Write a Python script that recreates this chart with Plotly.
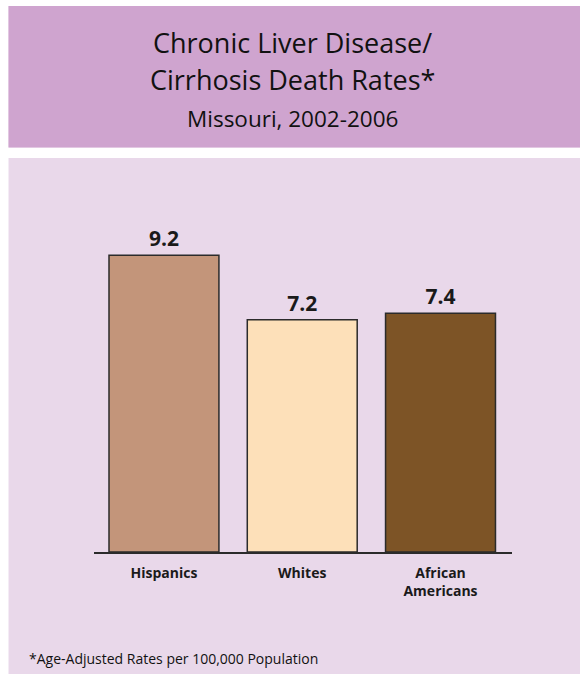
import plotly.graph_objects as go

categories = ["Hispanics", "Whites", "African<br>Americans"]
values = [9.2, 7.2, 7.4]
value_labels = ["9.2", "7.2", "7.4"]
bar_colors = ["#c3957a", "#fde0b9", "#7d5426"]

title_line1 = "Chronic Liver Disease/"
title_line2 = "Cirrhosis Death Rates*"
subtitle = "Missouri, 2002-2006"
footnote = "*Age-Adjusted Rates per 100,000 Population"

W, H = 580, 674
# plot area in page pixels: x 94..512, y 165..552
ML, MR, MT, MB = 94, 68, 165, 122

def px_x(x):
    return (x - ML) / (W - ML - MR)

def px_y(y):
    return (H - MB - y) / (H - MT - MB)

FONT = "Open Sans"
LAVENDER = "#e9d8ea"

fig = go.Figure(
    go.Bar(
        x=categories,
        y=values,
        text=value_labels,
        textposition="outside",
        texttemplate="<b>%{text}</b>",
        textfont=dict(family=FONT, size=21, color="#1a1a1a"),
        marker=dict(color=bar_colors, line=dict(color="#2b2b2b", width=1.5)),
        cliponaxis=False,
        width=0.795,
        hoverinfo="skip",
    )
)

shapes = [
    # white page border (left, top) and gap between the two panels
    dict(type="rect", xref="paper", yref="paper", layer="below",
         x0=px_x(-10), x1=px_x(8.5), y0=px_y(-10), y1=px_y(700),
         fillcolor="white", line=dict(width=0)),
    dict(type="rect", xref="paper", yref="paper", layer="below",
         x0=px_x(-10), x1=px_x(600), y0=px_y(-10), y1=px_y(6),
         fillcolor="white", line=dict(width=0)),
    dict(type="rect", xref="paper", yref="paper", layer="below",
         x0=px_x(-10), x1=px_x(600), y0=px_y(147.5), y1=px_y(158),
         fillcolor="white", line=dict(width=0)),
    # title panel
    dict(type="rect", xref="paper", yref="paper", layer="below",
         x0=px_x(8.5), x1=px_x(600), y0=px_y(6), y1=px_y(147.5),
         fillcolor="#cfa4cf", line=dict(width=0)),
]

annotations = [
    dict(text=title_line1, x=px_x(292), y=px_y(43), xref="paper", yref="paper",
         showarrow=False, font=dict(family=FONT, size=27, color="#111111"),
         xanchor="center", yanchor="middle"),
    dict(text=title_line2, x=px_x(292), y=px_y(80), xref="paper", yref="paper",
         showarrow=False, font=dict(family=FONT, size=27, color="#111111"),
         xanchor="center", yanchor="middle"),
    dict(text=subtitle, x=px_x(292), y=px_y(118), xref="paper", yref="paper",
         showarrow=False, font=dict(family=FONT, size=22.5, color="#111111"),
         xanchor="center", yanchor="middle"),
    dict(text=footnote, x=px_x(27), y=px_y(658), xref="paper", yref="paper",
         showarrow=False, font=dict(family=FONT, size=14, color="#111111"),
         xanchor="left", yanchor="middle"),
]

fig.update_layout(
    width=W, height=H,
    margin=dict(l=ML, r=MR, t=MT, b=MB, pad=0),
    paper_bgcolor=LAVENDER,
    plot_bgcolor="rgba(0,0,0,0)",
    shapes=shapes,
    annotations=annotations,
    showlegend=False,
    xaxis=dict(
        range=[-0.506, 2.517],
        showline=True, linecolor="#2b2b2b", linewidth=1.5,
        showgrid=False, zeroline=False, ticks="",
        ticklabelstandoff=7,
        tickfont=dict(family=FONT, size=14, color="#1a1a1a", weight="bold"),
        fixedrange=True,
    ),
    yaxis=dict(
        range=[0, 12], visible=False, showgrid=False, zeroline=False,
        fixedrange=True,
    ),
)

fig.write_html(
    "out.html",
    config={"displayModeBar": False},
    post_script="document.body.style.margin='0';document.body.style.overflow='hidden';",
)
